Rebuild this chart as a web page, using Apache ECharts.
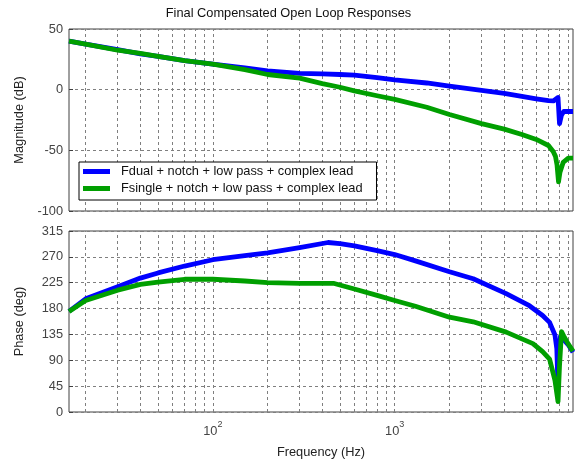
<!DOCTYPE html>
<html><head><meta charset="utf-8">
<script src="https://cdn.jsdelivr.net/npm/echarts@6/dist/echarts.min.js"></script>
<style>html,body{margin:0;padding:0;background:#fff}#c{width:577px;height:461px}</style>
</head><body><div id="c"></div>
<script>
const titleText = 'Final Compensated Open Loop Responses';
const seriesNames = ['Fdual + notch + low pass + complex lead', 'Fsingle + notch + low pass + complex lead'];
const freqRange = [16.2, 9550];
const magRange = [-100, 50];
const magStep = 50;
const phaseRange = [0, 315];
const phaseStep = 45;
const gridFreqs = [20,30,40,50,60,70,80,90,100,200,300,400,500,600,700,800,900,1000,2000,3000,4000,5000,6000,7000,8000,9000];

const magFreqDual = [16.2,20,30,40,50,70,100,150,200,300,400,500,600,800,1000,1500,2000,3000,4000,5000,6000,7000,7450,7900,8050,8250,8500,9550];
const magDual     = [40,37.5,33,29.5,27.5,24,21,18,15.5,13.5,13,12.5,12,10,8,5.5,3,-0.5,-3,-5.5,-7.5,-9,-9.3,-6.5,-28,-21,-18,-18];

const magFreqSingle = [16.2,20,30,40,50,70,100,150,200,300,400,500,600,800,1000,1500,2000,3000,4000,5000,6000,7000,7430,7650,7800,7950,8100,8430,9000,9550];
const magSingle     = [40,37.5,32.5,30,27.5,24,21,16.5,12.5,9.5,5,2,-1,-5,-8,-14.5,-20.5,-28,-32.5,-37,-41,-46,-51,-55,-62,-76,-68,-60,-56.5,-56.5];

const phFreqDual = [16.2,20,30,40,50,70,100,150,200,300,430,500,600,800,1000,1300,2000,2700,4100,5500,6500,7100,7600,7780,7880,8000,8150,8300,9000,9550];
const phDual     = [175,197,218,233,242,254,265,272,277,286,295,293,289,281,274,263,244,232,206,185,168,156,134,110,55,90,132,133,117,104];

const phFreqSingle = [16.2,20,30,40,50,70,100,150,200,300,460,600,800,1000,1300,2000,2700,4100,5750,6500,7100,7600,7900,8050,8260,8500,9000,9550];
const phSingle     = [175,194,212,222,226,231,231,228,225,224,224,214,203,194,184,165,157,139,119,105,92,55,18,80,140,132,118,106];

const FONT = 'Liberation Sans, Arial, sans-serif';
const FS = 12.8;
const colors = ['#0000ff', '#009f00'];
const pairs = (xs, ys) => xs.map((x, i) => [x, ys[i]]);

const chart = echarts.init(document.getElementById('c'), null, {renderer: 'canvas'});

const gridLineStyle = {type: [3, 3], color: '#7f7f7f', width: 1};

function xAxisFor(gi, withLabels) {
  return {
    type: 'log', logBase: 10, gridIndex: gi, min: freqRange[0], max: freqRange[1],
    axisLine: {show: false}, axisTick: {show: false}, splitLine: {show: false},
    axisLabel: withLabels ? {
      show: true, margin: 8, color: '#444', fontFamily: FONT,
      showMinLabel: false, showMaxLabel: false,
      formatter: function (v) {
        const l = Math.log10(v);
        if (Math.abs(l - Math.round(l)) < 1e-6) return '{b|10}{s|' + Math.round(l) + '}';
        return '';
      },
      rich: {
        b: {fontSize: FS, lineHeight: 18, fontFamily: FONT, color: '#444', verticalAlign: 'bottom'},
        s: {fontSize: 9, lineHeight: 10, fontFamily: FONT, color: '#444', verticalAlign: 'top'}
      }
    } : {show: false},
    name: withLabels ? 'Frequency (Hz)' : '',
    nameLocation: 'middle', nameGap: 34,
    nameTextStyle: {fontSize: FS, fontFamily: FONT, color: '#222'}
  };
}

function yAxisFor(gi, range, step, name) {
  return {
    type: 'value', gridIndex: gi, min: range[0], max: range[1], interval: step,
    axisLine: {show: false},
    axisTick: {show: true, inside: true, length: 4, lineStyle: {color: '#404040'}},
    axisLabel: {margin: 6, fontSize: FS, fontFamily: FONT, color: '#444'},
    splitLine: {show: true, lineStyle: gridLineStyle},
    name: name, nameLocation: 'middle', nameGap: 43,
    nameTextStyle: {fontSize: FS, fontFamily: FONT, color: '#222'}
  };
}

function vGridMark() {
  return {
    silent: true, z: 1, symbol: ['none', 'none'], animation: false,
    label: {show: false}, lineStyle: gridLineStyle, emphasis: {disabled: true},
    data: gridFreqs.map(f => ({xAxis: f}))
  };
}

function lineSeries(name, data, gi, color, mark) {
  const s = {
    type: 'line', name: name, data: data, xAxisIndex: gi, yAxisIndex: gi,
    showSymbol: false, symbol: 'none', z: 3, animation: false,
    lineStyle: {color: color, width: 4.8, join: 'round'}, itemStyle: {color: color},
    clip: true
  };
  if (mark) s.markLine = vGridMark();
  return s;
}

const option = {
  backgroundColor: '#ffffff',
  animation: false,
  title: {
    text: titleText, left: 'center', top: 0, padding: [7, 0, 0, 58],
    textStyle: {fontSize: FS, fontWeight: 'normal', fontFamily: FONT, color: '#111'}
  },
  legend: {
    data: seriesNames, orient: 'vertical', left: 79, top: 162,
    padding: [2, 14, 4, 4], itemGap: 2, itemWidth: 27, itemHeight: 5, icon: 'rect',
    backgroundColor: '#ffffff', borderColor: '#000', borderWidth: 1,
    textStyle: {fontSize: FS, fontFamily: FONT, color: '#111', lineHeight: 15, padding: [0, 0, 0, 6]}
  },
  grid: [
    {left: 69, top: 29, width: 504, height: 182, show: true, borderColor: '#404040', borderWidth: 1, backgroundColor: 'transparent'},
    {left: 69, top: 231, width: 504, height: 181, show: true, borderColor: '#404040', borderWidth: 1, backgroundColor: 'transparent'}
  ],
  xAxis: [xAxisFor(0, false), xAxisFor(1, true)],
  yAxis: [
    yAxisFor(0, magRange, magStep, 'Magnitude (dB)'),
    yAxisFor(1, phaseRange, phaseStep, 'Phase (deg)')
  ],
  series: [
    lineSeries(seriesNames[0], pairs(magFreqDual, magDual), 0, colors[0], true),
    lineSeries(seriesNames[1], pairs(magFreqSingle, magSingle), 0, colors[1], false),
    lineSeries(seriesNames[0], pairs(phFreqDual, phDual), 1, colors[0], true),
    lineSeries(seriesNames[1], pairs(phFreqSingle, phSingle), 1, colors[1], false)
  ]
};
chart.setOption(option);
</script>
</body></html>
